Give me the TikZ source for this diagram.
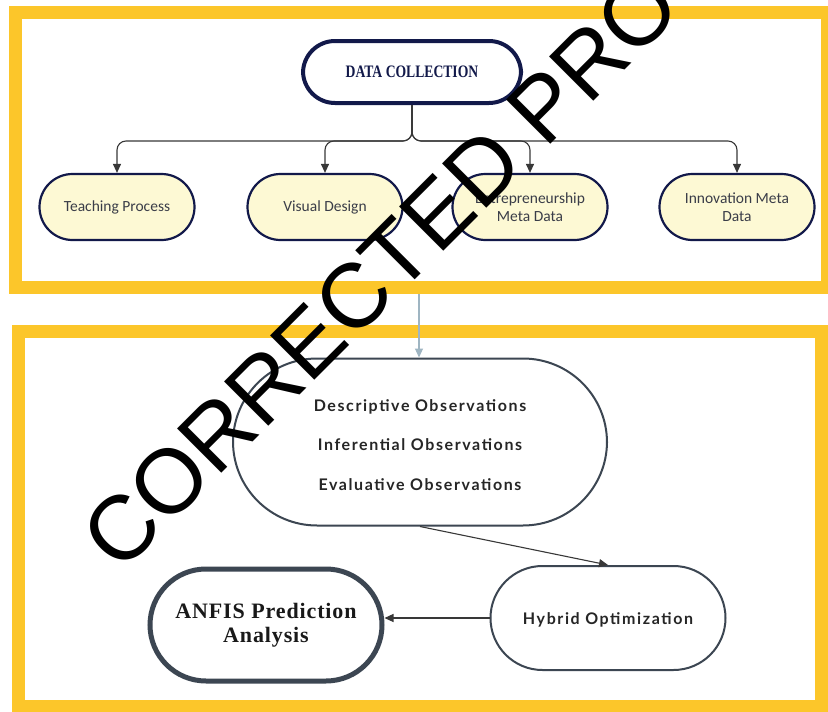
\documentclass[tikz,border=0pt]{standalone}
\usepackage{fontspec}
\setmainfont{Liberation Serif}
\newfontfamily\wmfont{Liberation Sans}
\newfontfamily\dcfont{Liberation Serif}[FakeStretch=0.78]
\newfontfamily\calfont{Carlito}
\newfontfamily\obsfont{Lato}[LetterSpace=10]
\newfontfamily\anfont{Liberation Serif}[LetterSpace=4]
\usetikzlibrary{arrows.meta}
\definecolor{gold}{HTML}{FCC62A}
\definecolor{cream}{HTML}{FDF9D4}
\definecolor{navy}{HTML}{12194A}
\definecolor{slate}{HTML}{3C4652}
\definecolor{steel}{HTML}{9FB5C2}
\definecolor{txtgray}{HTML}{3A3D48}
\definecolor{linegray}{HTML}{383838}
\tikzset{
  frame/.style={draw=gold, line width=13},
  dcbox/.style={draw=navy, line width=4, fill=white, rounded corners=32,
    minimum width=218, minimum height=62, inner sep=0,
    font=\dcfont\bfseries\fontsize{17.5}{17.5}\selectfont, text=navy},
  childbox/.style={draw=navy, line width=2.2, fill=cream, rounded corners=33,
    minimum width=155, minimum height=66, inner sep=0, align=center,
    font=\calfont\fontsize{15.5}{17.5}\selectfont, text=txtgray},
  obsbox/.style={draw=slate, line width=2, fill=white, inner sep=0},
  obstext/.style={inner sep=0, align=center,
    font=\obsfont\bfseries\fontsize{16}{39.5}\selectfont, text=black!85},
  anfisbox/.style={draw=slate, line width=5, fill=white, inner sep=0, align=center,
    rounded corners=56, minimum width=232, minimum height=112,
    font=\anfont\bfseries\fontsize{22}{24}\selectfont, text=black!90},
  arr/.style={draw=linegray, line width=1.1, -{Triangle[length=9pt,width=8pt]}},
  arrsteel/.style={draw=steel, line width=1.1, -{Triangle[length=9pt,width=8pt]}},
  wm/.style={font=\wmfont\fontsize{91}{91}\selectfont, text=black, inner sep=0},
}
\begin{document}
\begin{tikzpicture}[x=1pt,y=-1pt]
\useasboundingbox (0,0) rectangle (828,712);
\fill[white] (0,0) rectangle (828,712);
% frames
\draw[frame] (15,12.5) rectangle (827,287);
\draw[frame] (18,331) rectangle (821,706);
% top part
\node[dcbox] (dc) at (412,72) {DATA COLLECTION};
\node[childbox] (tp) at (117,207) {Teaching Process};
\node[childbox] (vd) at (325,207) {Visual Design};
\node[childbox] (em) at (530,207) {Entrepreneurship\\Meta Data};
\node[childbox] (im) at (737,207) {Innovation Meta\\Data};
\foreach \c in {tp,vd,em,im}
  \draw[arr, rounded corners=9] (dc.south) -- ++(0,36) -| (\c.north);
% lower part
\coordinate (gap) at (419,294);
\node[obsbox, rounded corners=84, minimum width=374, minimum height=167] (obs) at (420,442) {};
\node[obstext] (obst) at (420,445)
  {Descriptive Observations\\Inferential Observations\\Evaluative Observations};
\node[obsbox, rounded corners=52, minimum width=235, minimum height=104] (hyb) at (608,618) {};
\node[obstext] (hybt) at (608,620) {Hybrid Optimization};
\node[anfisbox] (anf) at (266,625) {ANFIS Prediction\\Analysis};
\draw[arrsteel] (gap) -- (gap |- obs.north);
\draw[arr] (obs.south) -- (hyb.north);
\draw[arr] (hyb.west) -- (hyb.west -| anf.east);
% watermark
\begin{scope}
\clip (0,0) rectangle (828,712);
\node[wm, rotate=45, anchor=base west] (mark) at (120,575) {CORRECTED PROOF};
\end{scope}
\end{tikzpicture}
\end{document}
